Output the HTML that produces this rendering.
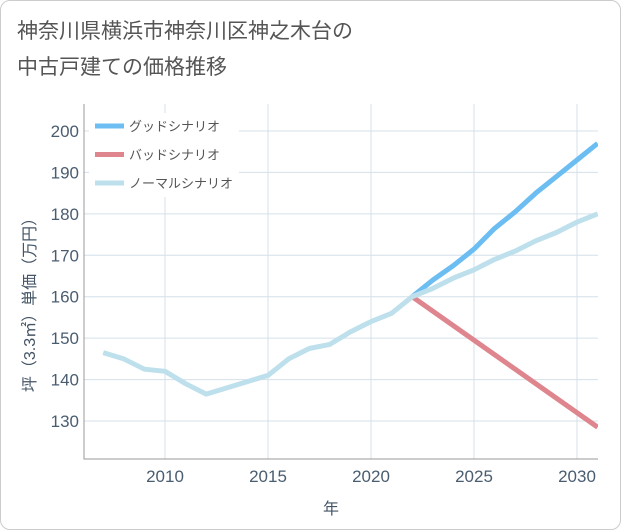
<!DOCTYPE html>
<html><head><meta charset="utf-8"><style>
body{margin:0;background:#fff;}
#wrap{position:relative;width:619px;height:528px;border:1px solid #ccc;border-radius:10px;background:#fff;overflow:hidden;}
svg text{font-family:"Liberation Sans","Noto Sans CJK JP",sans-serif;}
</style></head><body>
<div id="wrap">
<svg id="chart" width="619" height="528">
<text x="16" y="37" font-size="21" fill="#555">神奈川県横浜市神奈川区神之木台の</text>
<text x="16" y="73" font-size="21" fill="#555">中古戸建ての価格推移</text>
<g id="grid"></g><g id="axes"></g><g id="series"></g><g id="legend"></g>
<text x="330" y="513" font-size="16" fill="#456" text-anchor="middle">年</text>
<text transform="translate(34,300) rotate(-90)" font-size="16" fill="#456" text-anchor="middle">坪（3.3㎡）単価（万円）</text>
</svg></div>
<script>
const years=[2007,2008,2009,2010,2011,2012,2013,2014,2015,2016,2017,2018,2019,2020,2021,2022,2023,2024,2025,2026,2027,2028,2029,2030,2031];
const normalVals=[146.5,145,142.5,142,139,136.5,138,139.5,141,145,147.5,148.5,151.5,154,156,160,162,164.5,166.5,169,171,173.5,175.5,178,180];
const scenYears=[2022,2023,2024,2025,2026,2027,2028,2029,2030,2031];
const goodVals=[160,164,167.5,171.5,176.5,180.5,185,189,193,197];
const badVals=[160,156.5,153,149.5,146,142.5,139,135.5,132,128.5];
const xTicks=[2010,2015,2020,2025,2030];
const yTicks=[130,140,150,160,170,180,190,200];
const legendLabels=["グッドシナリオ","バッドシナリオ","ノーマルシナリオ"];
const L=83,R=597,T=103,B=458;
const X=y=>164+(y-2010)*20.6;
const Y=v=>420-(v-130)*4.143;
const NS="http://www.w3.org/2000/svg";
function mk(tag,attrs,parent){const e=document.createElementNS(NS,tag);for(const k in attrs)e.setAttribute(k,attrs[k]);parent.appendChild(e);return e;}
const grid=document.getElementById('grid'),axes=document.getElementById('axes'),series=document.getElementById('series'),legend=document.getElementById('legend');
xTicks.forEach(t=>{
 const l=mk('line',{x1:X(t),x2:X(t),y1:T,y2:B,stroke:'#d5e0ea','stroke-width':1},grid);
 
 
 const tx=mk('text',{x:X(t),y:481,'font-size':17,fill:'#4a5d70','text-anchor':'middle'},axes);
 tx.textContent=t;
 
 
});
yTicks.forEach(t=>{
 const l=mk('line',{x1:L,x2:R,y1:Y(t),y2:Y(t),stroke:'#d5e0ea','stroke-width':1},grid);
 
 
 const tx=mk('text',{x:78,y:Y(t)+6,'font-size':17,fill:'#4a5d70','text-anchor':'end'},axes);
 tx.textContent=t;
 
 
});
const ax=mk('path',{d:`M${L},${T}V${B}H${R}`,fill:'none',stroke:'#999','stroke-width':1},axes);


function line(xs,vs,color,name){
 const d=xs.map((x,i)=>(i?'L':'M')+X(x).toFixed(1)+','+Y(vs[i]).toFixed(1)).join('');
 const p=mk('path',{d:d,fill:'none',stroke:color,'stroke-width':5,'stroke-linejoin':'round','stroke-linecap':'butt'},series);
 
 
}
const cp=mk('clipPath',{id:'clip'},series);mk('rect',{x:L,y:T,width:R-L,height:B-T},cp);
series.setAttribute('clip-path','url(#clip)');
line(scenYears,goodVals,'#6bbdf2','good-scenario-line');
line(scenYears,badVals,'#de858e','bad-scenario-line');
line(years,normalVals,'#bde0ec','normal-scenario-line');
const lb=mk('rect',{x:88,y:112,width:150,height:84,fill:'#fff'},legend);


const colors=['#6bbdf2','#de858e','#bde0ec'];
legendLabels.forEach((s,i)=>{
 const y=125+i*28.5;
 const l=mk('line',{x1:94,x2:123,y1:y,y2:y,stroke:colors[i],'stroke-width':5},legend);
 
 
 const t=mk('text',{x:128,y:y+5,'font-size':13,fill:'#555'},legend);
 t.textContent=s;
 
 
});
</script>
</body></html>
